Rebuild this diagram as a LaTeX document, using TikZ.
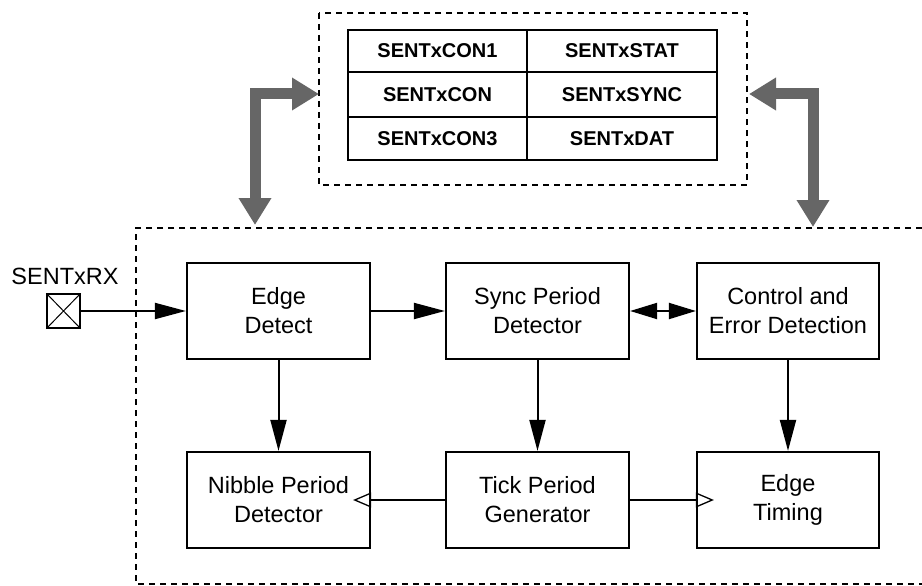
\documentclass[tikz,border=0pt]{standalone}
\usepackage{fontspec}
\setmainfont{Liberation Sans}
\usetikzlibrary{arrows.meta}
\begin{document}
\begin{tikzpicture}[x=1pt,y=-1pt,
  blk/.style={draw,line width=2.2pt,minimum width=183pt,minimum height=96pt,inner sep=0pt,align=center,font=\fontsize{23.5}{29}\selectfont},
  cell/.style={draw,line width=2.2pt,inner sep=0pt,font=\bfseries\fontsize{20}{24}\selectfont},
  dsh/.style={line width=2pt,dash pattern=on 6pt off 5pt},
  garrow/.style={line width=11pt,draw={rgb,255:red,102;green,102;blue,102},line join=miter,{Triangle[length=27pt,width=31pt]}-{Triangle[length=27pt,width=31pt]}},
  barrow/.style={line width=2pt,-{Triangle[length=31pt,width=16pt]}},
  oarrow/.style={line width=2pt,-{Triangle[open,length=18pt,width=15pt,line width=1.3pt]}}
]
\useasboundingbox (0,0) rectangle (922,586);
% top dashed box
\draw[dsh] (319,13) rectangle (747,185);
% register table
\node[cell,minimum width=179pt,minimum height=42pt] (c11) at (437.5,51) {SENTxCON1};
\node[cell,minimum width=190pt,minimum height=42pt] (c12) at (622,51) {SENTxSTAT};
\node[cell,minimum width=179pt,minimum height=45pt] (c21) at (437.5,94.5) {SENTxCON};
\node[cell,minimum width=190pt,minimum height=45pt] (c22) at (622,94.5) {SENTxSYNC};
\node[cell,minimum width=179pt,minimum height=43pt] (c31) at (437.5,138.5) {SENTxCON3};
\node[cell,minimum width=190pt,minimum height=43pt] (c32) at (622,138.5) {SENTxDAT};
% lower dashed box (open on the right)
\draw[dsh] (922,228) -- (136,228) -- (136,584) -- (922,584);
% gray bus arrows
\coordinate (lt) at (319,94);
\coordinate (lc) at (255,94);
\coordinate (lb) at (255,225);
\coordinate (rt) at (749,94);
\coordinate (rc) at (813,94);
\coordinate (rb) at (813,227);
\draw[garrow] (lt) -- (lc) -- (lb);
\draw[garrow] (rt) -- (rc) -- (rb);
% blocks
\node[blk] (ed) at (278.5,311) {Edge\\Detect};
\node[blk] (sp) at (537.5,311) {Sync Period\\Detector};
\node[blk,minimum width=182pt] (ce) at (788,311) {Control and\\Error Detection};
\node[blk] (np) at (278.5,500) {Nibble Period\\Detector};
\node[blk] (tp) at (537.5,500) {Tick Period\\Generator};
\node[blk,minimum width=182pt] (et) at (788,500) {Edge\\Timing};
% pin
\node[draw,line width=1.3pt,minimum width=33pt,minimum height=34pt,inner sep=0pt] (pin) at (63.5,311) {};
\draw[line width=1pt] (pin.north west) -- (pin.south east) (pin.north east) -- (pin.south west);
\node[font=\fontsize{23.5}{29}\selectfont,inner sep=0pt] (pinlbl) at (65,276) {SENTxRX};
% connectors
\draw[barrow] (pin.east) -- (ed.west);
\draw[barrow] (ed.east) -- (sp.west);
\draw[line width=2pt,{Triangle[length=27pt,width=16pt]}-{Triangle[length=27pt,width=16pt]}] (sp.east) -- (ce.west);
\draw[barrow] (ed.south) -- (np.north);
\draw[barrow] (sp.south) -- (tp.north);
\draw[barrow] (ce.south) -- (et.north);
\draw[oarrow] (tp.west) -- ([xshift=-18pt]np.east);
\draw[oarrow] (tp.east) -- ([xshift=18pt]et.west);
\end{tikzpicture}
\end{document}
